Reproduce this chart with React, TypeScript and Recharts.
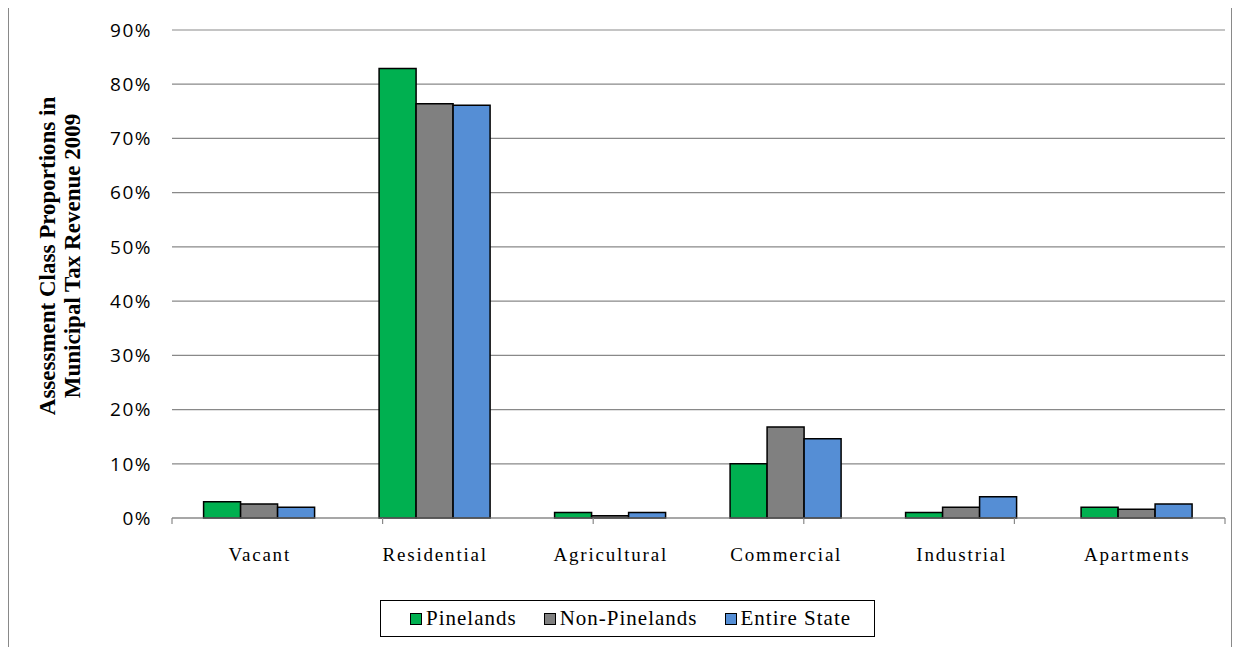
import { BarChart, Bar, XAxis, YAxis, CartesianGrid } from 'recharts';

const categories = ['Vacant', 'Residential', 'Agricultural', 'Commercial', 'Industrial', 'Apartments'];
const pinelands = [0.03, 0.829, 0.01, 0.10, 0.01, 0.02];
const nonPinelands = [0.026, 0.764, 0.004, 0.168, 0.02, 0.016];
const entireState = [0.02, 0.761, 0.01, 0.146, 0.039, 0.026];
const yTicks = [0, 0.1, 0.2, 0.3, 0.4, 0.5, 0.6, 0.7, 0.8, 0.9];
const boundaryTicks = [0, 1, 2, 3, 4, 5, 6];

const series = [
  { key: 'pinelands', label: 'Pinelands', color: '#00B050' },
  { key: 'nonPinelands', label: 'Non-Pinelands', color: '#808080' },
  { key: 'entireState', label: 'Entire State', color: '#558ED5' },
];

const data = categories.map((name, i) => ({
  name,
  pinelands: pinelands[i],
  nonPinelands: nonPinelands[i],
  entireState: entireState[i],
}));

const serif = '"Liberation Serif", "Times New Roman", serif';

function AxisTitle() {
  return (
    <text
      transform="translate(52, 249) rotate(-90)"
      textAnchor="middle"
      fontFamily={serif}
      fontWeight="bold"
      fontSize={23}
      fill="#000"
    >
      <tspan x={0} dy={-6}>Assessment Class Proportions in</tspan>
      <tspan x={0} dy={25}>Municipal Tax Revenue 2009</tspan>
    </text>
  );
}

export default function App() {
  return (
    <div
      style={{
        position: 'relative',
        marginTop: -2,
        width: 1222,
        height: 640,
        borderTop: '1px solid #898989',
        borderLeft: '1px solid #898989',
        borderRight: '1px solid #898989',
      }}
    >
      <BarChart
        width={1222}
        height={640}
        data={data}
        margin={{ top: 23, right: 6, bottom: 0, left: 0 }}
        barCategoryGap="18%"
        barGap={0}
      >
        <CartesianGrid vertical={false} stroke="#898989" strokeWidth={1.2} />
        <XAxis
          xAxisId="bounds"
          type="number"
          domain={[0, 6]}
          ticks={boundaryTicks}
          tickFormatter={() => ''}
          tickSize={6}
          height={8}
          stroke="#898989"
          strokeWidth={1.2}
        />
        <XAxis
          xAxisId="cat"
          dataKey="name"
          height={121}
          axisLine={false}
          tickLine={false}
          tickSize={0}
          tickMargin={22}
          interval={0}
          tick={{ fontFamily: serif, fontSize: 19, fill: '#000', letterSpacing: 1.8 }}
        />
        <YAxis
          width={163}
          domain={[0, 0.9]}
          ticks={yTicks}
          axisLine={false}
          tickLine={false}
          tickSize={0}
          tickMargin={20}
          tickFormatter={(v: number) => `${Math.round(v * 100)}%`}
          tick={{ fontFamily: '"Open Sans", sans-serif', fontSize: 19, fill: '#000', letterSpacing: 1.5 }}
          label={<AxisTitle />}
        />
        {series.map((s) => (
          <Bar
            key={s.key}
            xAxisId="cat"
            dataKey={s.key}
            name={s.label}
            fill={s.color}
            stroke="#000"
            strokeWidth={1.5}
            isAnimationActive={false}
          />
        ))}
      </BarChart>
      <div
        style={{
          position: 'absolute',
          left: 371,
          top: 593,
          width: 495,
          height: 37,
          border: '1.5px solid #000',
          display: 'flex',
          alignItems: 'center',
          justifyContent: 'flex-start',
          paddingLeft: 29,
          gap: 27,
          fontFamily: serif,
          fontSize: 21,
          letterSpacing: 1,
          boxSizing: 'border-box',
        }}
      >
        {series.map((s) => (
          <div key={s.key} style={{ display: 'flex', alignItems: 'center' }}>
            <span
              style={{
                display: 'inline-block',
                width: 10,
                height: 10,
                background: s.color,
                border: '1.5px solid #000',
                marginRight: 4,
              }}
            />
            {s.label}
          </div>
        ))}
      </div>
    </div>
  );
}
